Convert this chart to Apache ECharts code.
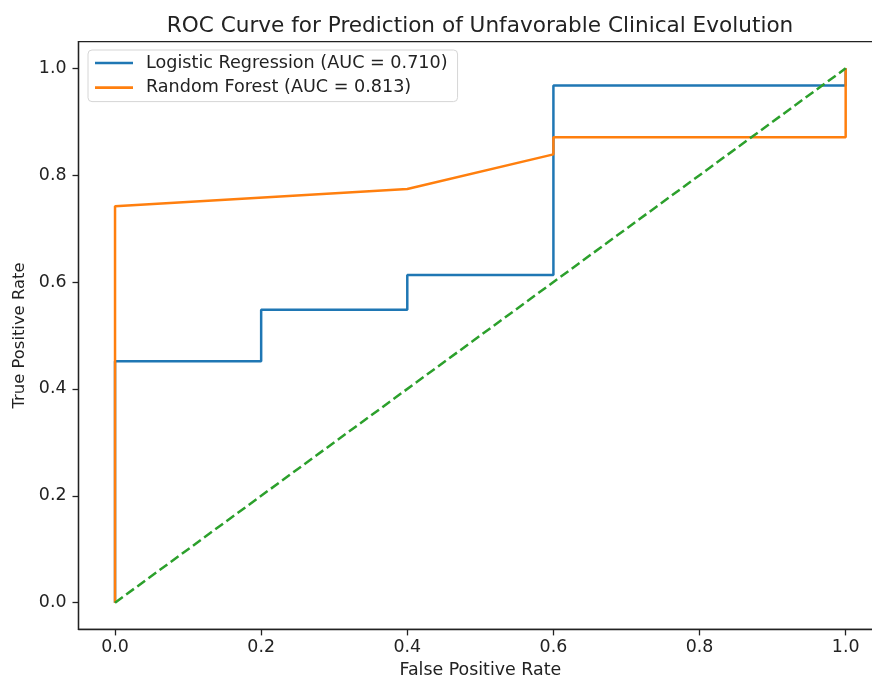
<!DOCTYPE html>
<html>
<head>
<meta charset="utf-8">
<script src="https://cdn.jsdelivr.net/npm/echarts@6/dist/echarts.min.js"></script>
<style>
html,body{margin:0;padding:0;background:#fff;}
#chart{width:872px;height:675px;}
</style>
</head>
<body>
<div id="chart"></div>
<script>
const titleText = 'ROC Curve for Prediction of Unfavorable Clinical Evolution';
const xAxisName = 'False Positive Rate';
const yAxisName = 'True Positive Rate';
const tickValues = [0.0, 0.2, 0.4, 0.6, 0.8, 1.0];

const lrName = 'Logistic Regression (AUC = 0.710)';
const lrFpr = [0.0, 0.0, 0.2, 0.2, 0.4, 0.4, 0.6, 0.6, 1.0, 1.0];
const lrTpr = [0.0, 0.452, 0.452, 0.548, 0.548, 0.613, 0.613, 0.968, 0.968, 1.0];

const rfName = 'Random Forest (AUC = 0.813)';
const rfFpr = [0.0, 0.0, 0.4, 0.6, 0.6, 1.0, 1.0];
const rfTpr = [0.0, 0.742, 0.774, 0.839, 0.871, 0.871, 1.0];

const chanceFpr = [0.0, 1.0];
const chanceTpr = [0.0, 1.0];

const zip = (a, b) => a.map((v, i) => [v, b[i]]);
const FONT = 'DejaVu Sans';

const chart = echarts.init(document.getElementById('chart'), null, {renderer: 'canvas'});
const axisCommon = {
  type: 'value',
  min: -0.05,
  max: 1.05,
  splitLine: {show: false},
  axisLine: {show: true, onZero: false, lineStyle: {color: '#222', width: 1.3}},
  axisTick: {show: true, inside: false, length: 6, customValues: tickValues, lineStyle: {color: '#222', width: 1.3}},
  axisLabel: {customValues: tickValues, formatter: v => v.toFixed(1), color: '#222', fontFamily: FONT, fontSize: 17.4},
  nameLocation: 'middle',
  nameTextStyle: {color: '#222', fontFamily: FONT, fontSize: 17.4}
};
chart.setOption({
  animation: false,
  backgroundColor: '#fff',
  title: {
    text: titleText,
    left: 475, top: 10, textAlign: 'center',
    textStyle: {fontFamily: FONT, fontSize: 21.6, fontWeight: 'normal', color: '#222'}
  },
  grid: {
    left: 78.5, top: 41.6, width: 803.7, height: 587.8,
    containLabel: false, outerBoundsMode: 'none',
    show: true, borderColor: '#222', borderWidth: 1.3, backgroundColor: 'transparent'
  },
  legend: {
    data: [lrName, rfName],
    orient: 'vertical',
    left: 88, top: 50,
    padding: [4, 10, 5, 7],
    icon: 'rect',
    itemWidth: 38, itemHeight: 2.6, itemGap: 6.6,
    backgroundColor: 'rgba(255,255,255,0.8)',
    borderColor: '#d6d6d6', borderWidth: 1, borderRadius: 4,
    textStyle: {fontFamily: FONT, fontSize: 17.6, color: '#222', lineHeight: 18, padding: [0, 0, 0, 8]}
  },
  xAxis: Object.assign({}, axisCommon, {
    name: xAxisName, nameGap: 33,
    axisLabel: Object.assign({}, axisCommon.axisLabel, {margin: 10})
  }),
  yAxis: Object.assign({}, axisCommon, {
    name: yAxisName, nameGap: 50,
    nameTextStyle: {color: '#222', fontFamily: FONT, fontSize: 16.4},
    axisLabel: Object.assign({}, axisCommon.axisLabel, {margin: 12})
  }),
  series: [
    {name: lrName, type: 'line', data: zip(lrFpr, lrTpr), symbol: 'none',
     lineStyle: {color: '#1f77b4', width: 2.5}, itemStyle: {color: '#1f77b4'}},
    {name: rfName, type: 'line', data: zip(rfFpr, rfTpr), symbol: 'none',
     lineStyle: {color: '#ff7f0e', width: 2.5}, itemStyle: {color: '#ff7f0e'}},
    {name: 'Chance', type: 'line', data: zip(chanceFpr, chanceTpr), symbol: 'none',
     lineStyle: {color: '#2ca02c', width: 2.5, type: [9.6, 4.2]}, itemStyle: {color: '#2ca02c'}}
  ]
});
</script>
</body>
</html>
